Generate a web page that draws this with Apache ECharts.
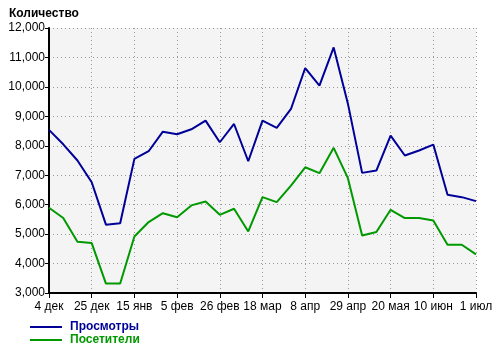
<!DOCTYPE html>
<html><head><meta charset="utf-8">
<script src="https://cdn.jsdelivr.net/npm/echarts@6/dist/echarts.min.js"></script>
<style>html,body{margin:0;padding:0;background:#fff}#c{width:500px;height:351px}</style>
</head><body><div id="c"></div>
<script>
var categories = ['4 дек','11 дек','18 дек','25 дек','1 янв','8 янв','15 янв','22 янв','29 янв','5 фев','12 фев','19 фев','26 фев','4 мар','11 мар','18 мар','25 мар','1 апр','8 апр','15 апр','22 апр','29 апр','6 мая','13 мая','20 мая','27 мая','3 июн','10 июн','17 июн','24 июн','1 июл'];
var views = [8540,8050,7500,6760,5320,5370,7555,7815,8480,8390,8560,8855,8120,8740,7475,8855,8605,9250,10640,10040,11340,9430,7080,7160,8345,7670,7840,8040,6335,6255,6120];
var visitors = [5895,5545,4740,4695,3320,3320,4920,5410,5710,5575,5975,6110,5655,5860,5090,6255,6085,6650,7270,7070,7930,6900,4955,5070,5825,5545,5545,5465,4640,4640,4310];
var seriesNames = ['Просмотры','Посетители'];
var colors = ['#000099','#009900'];

var chart = echarts.init(document.getElementById('c'));
var font = 'Liberation Sans, Arial, sans-serif';
chart.setOption({
  animation: false,
  title: {text: 'Количество', left: 4, top: 3, textStyle: {fontSize: 12, fontWeight: 'bold', color: '#000', fontFamily: font}},
  grid: {left: 49, right: 24, top: 28, bottom: 58, show: true, backgroundColor: '#f4f4f4', borderWidth: 0},
  legend: {
    orient: 'vertical', left: 30, top: 321, padding: 0, itemWidth: 32, itemHeight: 11, itemGap: 1,
    icon: 'path://M0,4 L32,4 L32,6 L0,6 Z',
    data: [
      {name: seriesNames[0], textStyle: {color: colors[0]}},
      {name: seriesNames[1], textStyle: {color: colors[1]}}
    ],
    textStyle: {fontSize: 12, fontWeight: 'bold', fontFamily: font, padding: [0,0,0,3]}
  },
  xAxis: {
    type: 'category', data: categories, boundaryGap: false,
    axisLine: {lineStyle: {color: '#000', width: 2}},
    axisTick: {show: true, interval: 2, length: 5, lineStyle: {color: '#000', width: 1}},
    axisLabel: {interval: 2, color: '#000', fontSize: 12, fontFamily: font, margin: 8},
    splitLine: {show: true, interval: 2, lineStyle: {color: '#999', type: [1,3], width: 1}}
  },
  yAxis: {
    type: 'value', min: 3000, max: 12000, interval: 1000,
    axisLine: {show: true, lineStyle: {color: '#000', width: 2}},
    axisTick: {show: true, length: 4, lineStyle: {color: '#000'}},
    axisLabel: {color: '#000', fontSize: 12, fontFamily: font, margin: 4,
      formatter: function(v){ return v.toLocaleString('en-US'); }},
    splitLine: {show: true, lineStyle: {color: '#999', type: [1,3], width: 1}}
  },
  series: [
    {name: seriesNames[0], type: 'line', data: views, symbol: 'none', lineStyle: {color: colors[0], width: 2}, itemStyle: {color: colors[0]}},
    {name: seriesNames[1], type: 'line', data: visitors, symbol: 'none', lineStyle: {color: colors[1], width: 2}, itemStyle: {color: colors[1]}}
  ]
});
</script></body></html>
